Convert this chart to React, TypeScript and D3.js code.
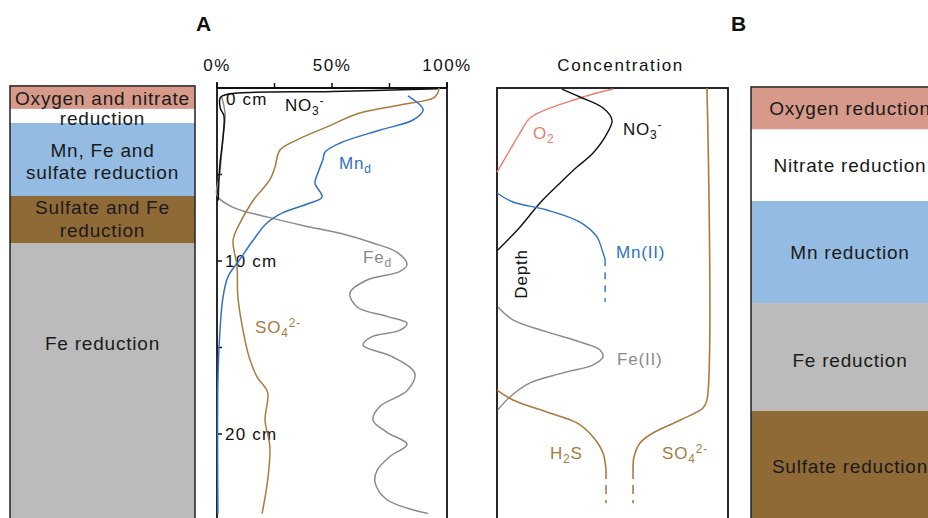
import React from "react";
import * as d3 from "d3";

// ---------- DATA ----------
// Panel A: [percent, depth cm]
const no3A: [number, number][] = [[96, 0.05], [50, 0.2], [5, 0.35], [1.5, 0.55], [1.5, 1.2], [3, 1.6], [2.5, 3.0], [1.2, 4.5], [0.5, 6.5]];
const so4A: [number, number][] = [[96.5, 0.0], [96, 0.3], [94, 0.58], [79.6, 0.98], [62, 1.45], [47.8, 2.25], [34.8, 3.0], [27.4, 3.58], [25.2, 4.57], [23, 5.3], [15.7, 6.5], [10, 7.8], [7, 8.8], [8.7, 10.3], [9.1, 12.1], [12.2, 14.6], [14.3, 15.7], [17.4, 16.7], [22, 17.6], [20.9, 19.2], [23, 20.75], [22, 22.7], [19.6, 24.6]];
const mnA: [number, number][] = [[83, 0.46], [89.6, 1.27], [85.2, 1.85], [70.9, 2.43], [53.5, 3.18], [47, 3.7], [46, 4.16], [43.9, 4.9], [42.6, 5.5], [45.7, 6.3], [40.4, 6.65], [28.7, 7.2], [21.7, 7.8], [15.7, 8.8], [10, 9.9], [4.8, 10.9], [2.6, 12.1], [1.3, 14], [0.4, 16.9], [0.4, 24.6]];
const feA: [number, number][] = [[2, 0.5], [3.5, 1.5], [2.5, 3], [1.2, 5], [0, 6.2], [7, 6.9], [21.7, 7.45], [39.1, 8.0], [53.5, 8.4], [67.8, 8.96], [78.3, 9.5], [82.6, 10.2], [79.6, 10.6], [65.2, 11.1], [57.8, 11.85], [60.9, 12.66], [73.9, 13.2], [82.6, 13.6], [79.6, 14.0], [67, 14.4], [63.5, 14.86], [76.5, 15.55], [86, 16.5], [82.6, 17.5], [70.9, 18.4], [67.8, 19.2], [73.9, 19.9], [82.6, 20.6], [75.2, 21.3], [69.6, 22.1], [68.7, 22.8], [73.9, 23.8], [91.7, 24.6]];

// Panel B concentration (schematic): [relative conc, depth]
const o2B: [number, number][] = [[50.2, 0.06], [35.9, 0.58], [14.3, 1.73], [10, 2.6], [0, 4.86]];
const no3B: [number, number][] = [[28.1, 0.06], [35.9, 0.52], [45.9, 1.16], [49.8, 1.85], [48, 2.54], [41.6, 3.76], [34.6, 4.57], [27.3, 5.49], [18.6, 6.65], [10, 8.03], [0.4, 9.36]];
const mnB: [number, number][] = [[0, 6.07], [6.9, 6.59], [21.6, 7.05], [35.9, 7.75], [43.3, 8.61], [45.5, 9.36], [46.8, 9.9]];
const mnBDash: [number, number][] = [[46.8, 9.9], [46.8, 12.37]];
const feB: [number, number][] = [[0.4, 12.66], [6.9, 13.4], [21.6, 14.1], [35.9, 14.68], [44.6, 15.14], [45.9, 15.55], [41.6, 16.0], [28.6, 16.47], [14.3, 17.05], [5.6, 17.86], [0.4, 18.6]];
const h2sB: [number, number][] = [[0, 17.46], [6.9, 18.03], [21.6, 18.73], [34.6, 19.36], [41.6, 20.17], [45.9, 21.1], [47.2, 22.08]];
const h2sBDash: [number, number][] = [[47.2, 22.08], [47.2, 24.0]];
const so4B: [number, number][] = [[90.9, 0], [90.9, 18.03], [89.2, 18.5], [79.2, 19.2], [67.5, 19.94], [61.9, 20.52], [59.3, 21.33], [58.9, 22.08]];
const so4BDash: [number, number][] = [[58.9, 22.08], [58.9, 24.0]];

// Zones: [top depth px-equivalent via cm, bottom]
const zonesLeft = [
  { top: -0.12, bottom: 1.21, color: "#d79a8a", lines: ["Oxygen and nitrate"], ys: [1.0] },
  { top: 1.21, bottom: 2.02, color: "#ffffff", lines: ["reduction"], ys: [2.14] },
  { top: 2.02, bottom: 6.24, color: "#94bbe1", lines: ["Mn, Fe and", "sulfate reduction"], ys: [3.97, 5.26] },
  { top: 6.24, bottom: 8.96, color: "#8f6a36", lines: ["Sulfate and Fe", "reduction"], ys: [7.28, 8.61] },
  { top: 8.96, bottom: 26, color: "#bbbbbb", lines: ["Fe reduction"], ys: [15.14] },
];
const zonesRight = [
  { top: -0.06, bottom: 2.4, color: "#d79a8a", lines: ["Oxygen reduction"], ys: [1.56] },
  { top: 2.4, bottom: 6.53, color: "#ffffff", lines: ["Nitrate reduction"], ys: [4.86] },
  { top: 6.53, bottom: 12.43, color: "#94bbe1", lines: ["Mn reduction"], ys: [9.88] },
  { top: 12.43, bottom: 18.67, color: "#bbbbbb", lines: ["Fe reduction"], ys: [16.13] },
  { top: 18.67, bottom: 26, color: "#8f6a36", lines: ["Sulfate reduction"], ys: [22.25] },
];

const pctTicks = [0, 25, 50, 75, 100];
const pctLabels = ["0%", "", "50%", "", "100%"];
const depthTicks = [0, 5, 10, 15, 20];
const depthLabels = ["0 cm", "", "10 cm", "", "20 cm"];

const FONT = "'Liberation Sans', Arial, sans-serif";
const C_SO4 = "#a97b3f";
const C_MN = "#2f72c4";
const C_FE = "#8a8a8a";
const C_O2 = "#e8806e";

export default function App() {
  const W = 928, H = 518;
  const y = d3.scaleLinear().domain([0, 25]).range([88, 520.5]);
  const xA = d3.scaleLinear().domain([0, 100]).range([217, 447]);
  const xB = d3.scaleLinear().domain([0, 100]).range([497, 728]);
  const xL = d3.scaleLinear().domain([0, 1]).range([10, 195]);
  const xR = d3.scaleLinear().domain([0, 1]).range([751, 949]);

  const lineA = d3.line<[number, number]>().x((d) => xA(d[0])).y((d) => y(d[1])).curve(d3.curveCatmullRom.alpha(0.5));
  const lineB = d3.line<[number, number]>().x((d) => xB(d[0])).y((d) => y(d[1])).curve(d3.curveCatmullRom.alpha(0.5));

  const txt = { fontFamily: FONT, letterSpacing: "0.8px" } as React.CSSProperties;

  const zoneBox = (zones: typeof zonesLeft, xs: d3.ScaleLinear<number, number>) => (
    <g>
      {zones.map((z, i) => (
        <rect key={i} x={xs(0)} y={y(z.top)} width={xs(1) - xs(0)} height={y(z.bottom) - y(z.top)} fill={z.color} />
      ))}
      <rect x={xs(0)} y={y(zones[0].top)} width={xs(1) - xs(0)} height={y(26) - y(zones[0].top)} fill="none" stroke="#222" strokeWidth={1.5} />
      {zones.map((z, i) =>
        z.lines.map((l, j) => (
          <text key={i + "-" + j} x={(xs(0) + Math.min(xs(1), 950)) / 2} y={y(z.ys[j])} textAnchor="middle" fontSize={19} fill="#1a1a1a" style={txt}>
            {l}
          </text>
        ))
      )}
    </g>
  );

  return (
    <svg width={W} height={H} style={{ position: "absolute", left: 0, top: 0, background: "#fff" }}>
      {/* left zone column */}
      {zoneBox(zonesLeft, xL)}
      {/* right zone column */}
      {zoneBox(zonesRight, xR)}

      {/* Titles */}
      <text x={196} y={31} fontSize={21} fontWeight="bold" fill="#111" style={{ fontFamily: FONT }}>A</text>
      <text x={731} y={31} fontSize={21} fontWeight="bold" fill="#111" style={{ fontFamily: FONT }}>B</text>

      {/* Panel A frame */}
      <line x1={xA(0)} x2={xA(100)} y1={88} y2={88} stroke="#111" strokeWidth={1.8} />
      <line x1={xA(0)} x2={xA(0)} y1={82} y2={H} stroke="#111" strokeWidth={1.8} />
      <line x1={xA(100)} x2={xA(100)} y1={82} y2={H} stroke="#111" strokeWidth={1.8} />
      {pctTicks.map((t, i) => (
        <g key={t}>
          <line x1={xA(t)} x2={xA(t)} y1={83} y2={88} stroke="#111" strokeWidth={1.5} />
          {pctLabels[i] && (
            <text x={xA(t)} y={71} textAnchor="middle" fontSize={17} fill="#111" style={{ ...txt, letterSpacing: "1.5px" }}>
              {pctLabels[i]}
            </text>
          )}
        </g>
      ))}
      {depthTicks.map((t, i) => (
        <g key={t}>
          {t > 0 && <line x1={xA(0)} x2={xA(0) + 5} y1={y(t)} y2={y(t)} stroke="#111" strokeWidth={1.5} />}
          {depthLabels[i] && (
            <text x={xA(0) + (t === 0 ? 9 : 8)} y={t === 0 ? 105 : y(t) + 6} fontSize={17} fill="#111" style={{ ...txt, letterSpacing: "1.2px" }}>
              {depthLabels[i]}
            </text>
          )}
        </g>
      ))}

      {/* Panel A curves */}
      <path d={lineA(feA) || ""} fill="none" stroke={C_FE} strokeWidth={1.5} />
      <path d={lineA(no3A) || ""} fill="none" stroke="#111" strokeWidth={1.5} />
      <path d={lineA(so4A) || ""} fill="none" stroke={C_SO4} strokeWidth={1.5} />
      <path d={lineA(mnA) || ""} fill="none" stroke={C_MN} strokeWidth={1.5} />

      {/* Panel A labels */}
      <text x={285} y={111} fontSize={17} fill="#111" style={txt}>
        NO<tspan fontSize={12} dy={4}>3</tspan><tspan fontSize={12} dy={-10}>-</tspan>
      </text>
      <text x={339} y={169} fontSize={17} fill={C_MN} style={txt}>
        Mn<tspan fontSize={12} dy={4}>d</tspan>
      </text>
      <text x={363} y={263} fontSize={17} fill={C_FE} style={txt}>
        Fe<tspan fontSize={12} dy={4}>d</tspan>
      </text>
      <text x={255} y={333} fontSize={17} fill={C_SO4} style={txt}>
        SO<tspan fontSize={12} dy={4}>4</tspan><tspan fontSize={12} dy={-10}>2-</tspan>
      </text>

      {/* Panel B frame */}
      <text x={xB(53.5)} y={71} textAnchor="middle" fontSize={17} fill="#111" style={{ ...txt, letterSpacing: "1.6px" }}>Concentration</text>
      <rect x={xB(0)} y={88} width={xB(100) - xB(0)} height={H} fill="none" stroke="#111" strokeWidth={1.8} />

      <path d={lineB(o2B) || ""} fill="none" stroke={C_O2} strokeWidth={1.4} />
      <path d={lineB(no3B) || ""} fill="none" stroke="#111" strokeWidth={1.4} />
      <path d={lineB(mnB) || ""} fill="none" stroke={C_MN} strokeWidth={1.4} />
      <path d={lineB(mnBDash) || ""} fill="none" stroke={C_MN} strokeWidth={1.4} strokeDasharray="7 6" />
      <path d={lineB(feB) || ""} fill="none" stroke={C_FE} strokeWidth={1.4} />
      <path d={lineB(h2sB) || ""} fill="none" stroke={C_SO4} strokeWidth={1.6} />
      <path d={lineB(h2sBDash) || ""} fill="none" stroke={C_SO4} strokeWidth={1.6} strokeDasharray="9 6" />
      <path d={lineB(so4B) || ""} fill="none" stroke={C_SO4} strokeWidth={1.6} />
      <path d={lineB(so4BDash) || ""} fill="none" stroke={C_SO4} strokeWidth={1.6} strokeDasharray="9 6" />

      <text x={533} y={139} fontSize={17} fill={C_O2} style={txt}>
        O<tspan fontSize={12} dy={4}>2</tspan>
      </text>
      <text x={623} y={135} fontSize={17} fill="#111" style={txt}>
        NO<tspan fontSize={12} dy={4}>3</tspan><tspan fontSize={12} dy={-10}>-</tspan>
      </text>
      <text x={616} y={258} fontSize={17} fill={C_MN} style={txt}>Mn(II)</text>
      <text x={617} y={365} fontSize={17} fill={C_FE} style={txt}>Fe(II)</text>
      <text x={550} y={459} fontSize={17} fill={C_SO4} style={txt}>
        H<tspan fontSize={12} dy={4}>2</tspan><tspan dy={-4}>S</tspan>
      </text>
      <text x={662} y={459} fontSize={17} fill={C_SO4} style={txt}>
        SO<tspan fontSize={12} dy={4}>4</tspan><tspan fontSize={12} dy={-10}>2-</tspan>
      </text>
      <text transform="translate(527,274) rotate(-90)" textAnchor="middle" fontSize={17} fill="#111" style={txt}>Depth</text>
    </svg>
  );
}
